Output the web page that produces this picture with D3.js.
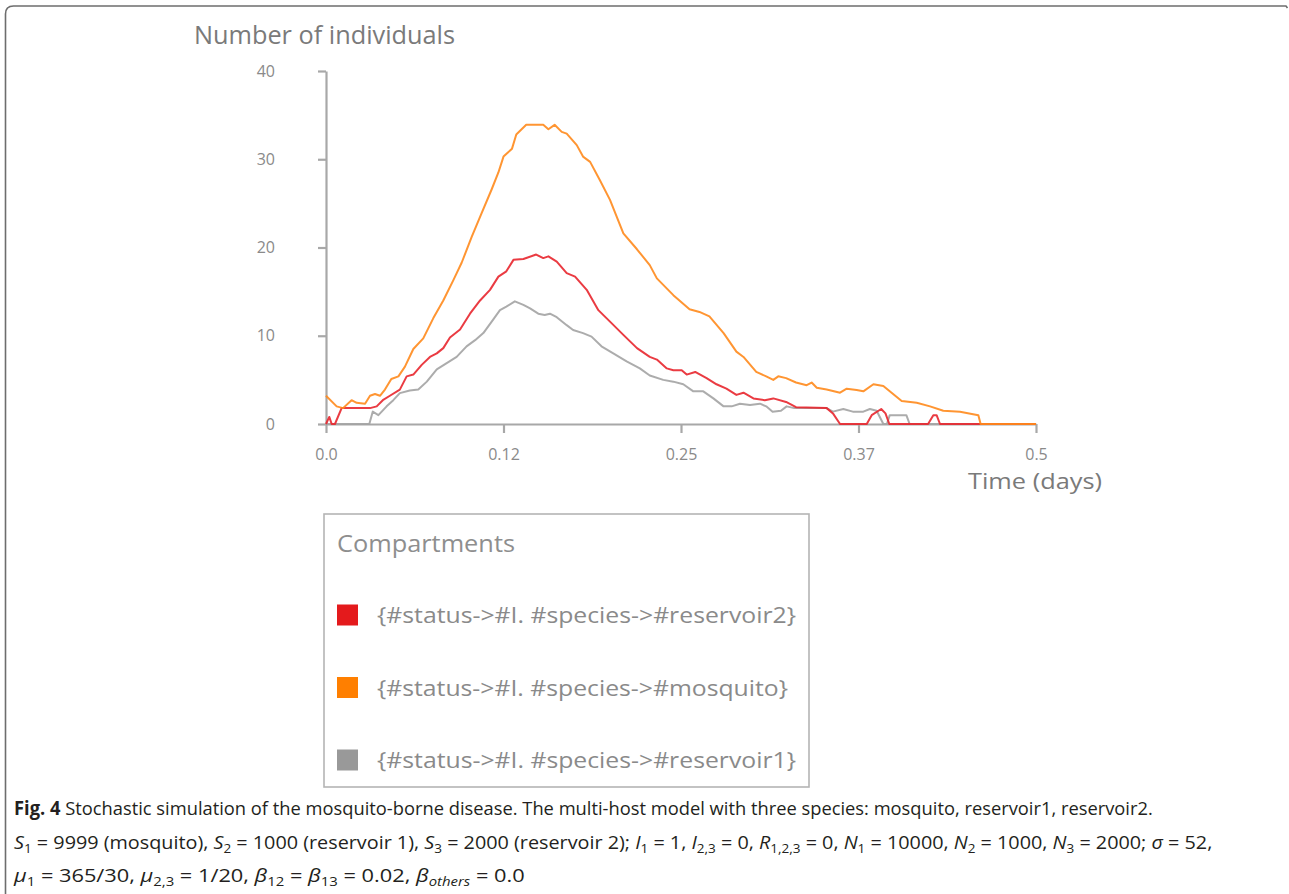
<!DOCTYPE html>
<html>
<head>
<meta charset="utf-8">
<script src="https://cdn.jsdelivr.net/npm/d3@7"></script>
<style>
  html, body { margin: 0; padding: 0; background: #fff; }
  svg { display: block; }
</style>
</head>
<body>
<svg id="chart" width="1289" height="894"></svg>
<script>
// ---------------- DATA ----------------
const xTickValues = [0, 0.125, 0.25, 0.375, 0.5];
const xTickLabels = ["0.0", "0.12", "0.25", "0.37", "0.5"];
const yTickValues = [0, 10, 20, 30, 40];
const yTickLabels = ["0", "10", "20", "30", "40"];

const seriesNames = [
  "{#status->#I. #species->#reservoir2}",
  "{#status->#I. #species->#mosquito}",
  "{#status->#I. #species->#reservoir1}"
];
const seriesColors = ["#e41a1c", "#ff7f00", "#999999"];
const lineColors = ["#e8262e", "#ff8a1c", "#a3a3a3"];

// [time (days), number of individuals]
const reservoir2 = [[0,0],[0.0023,0.8],[0.004,0],[0.0063,0],[0.011,1.8],[0.031,1.8],[0.0357,2.0],[0.04,2.7],[0.045,3.2],[0.052,3.9],[0.0568,5.4],[0.0615,5.6],[0.0674,6.7],[0.0732,7.6],[0.078,8.0],[0.0826,8.6],[0.0873,9.8],[0.0944,10.7],[0.1014,12.5],[0.1085,14.0],[0.1155,15.2],[0.1214,16.7],[0.127,17.3],[0.132,18.6],[0.139,18.7],[0.148,19.2],[0.153,18.8],[0.1566,19.0],[0.1625,18.4],[0.1695,17.1],[0.1754,16.7],[0.1836,15.2],[0.1918,12.9],[0.2,11.6],[0.2094,10.1],[0.219,8.6],[0.228,7.6],[0.233,7.3],[0.24,6.3],[0.2446,6.1],[0.2505,6.1],[0.254,5.6],[0.26,5.9],[0.268,5.2],[0.275,4.5],[0.282,4.0],[0.289,3.3],[0.294,3.55],[0.301,2.9],[0.309,2.7],[0.315,2.9],[0.324,2.5],[0.331,1.9],[0.3526,1.8],[0.357,1.2],[0.362,0],[0.3808,0],[0.3843,1.0],[0.391,1.7],[0.394,1.2],[0.3967,0],[0.424,0],[0.4277,1.0],[0.43,1.0],[0.4324,0],[0.5,0]];

const mosquito = [[0,3.2],[0.0075,2.0],[0.012,1.8],[0.018,2.7],[0.0216,2.4],[0.0275,2.3],[0.031,3.2],[0.0345,3.4],[0.038,3.2],[0.0415,3.9],[0.046,5.1],[0.051,5.4],[0.0556,6.5],[0.0615,8.5],[0.0685,9.7],[0.0756,12.0],[0.0826,14.0],[0.0897,16.3],[0.0956,18.3],[0.1026,21.2],[0.1096,23.9],[0.1167,26.6],[0.1214,28.5],[0.125,30.3],[0.131,31.2],[0.134,32.8],[0.141,33.9],[0.148,33.9],[0.153,33.9],[0.1566,33.4],[0.161,33.9],[0.166,33.1],[0.1695,32.9],[0.1766,31.6],[0.181,30.3],[0.186,29.7],[0.193,27.6],[0.2,25.4],[0.2047,23.5],[0.2094,21.6],[0.219,19.8],[0.228,18.0],[0.233,16.5],[0.2446,14.6],[0.256,13.0],[0.263,12.7],[0.27,12.2],[0.28,10.3],[0.289,8.2],[0.294,7.6],[0.303,5.9],[0.31,5.4],[0.315,5.0],[0.3185,5.4],[0.324,5.2],[0.331,4.7],[0.3385,4.4],[0.342,4.7],[0.3456,4.1],[0.3526,3.9],[0.362,3.55],[0.3667,4.0],[0.3737,3.85],[0.3784,3.7],[0.3855,4.5],[0.3925,4.3],[0.397,3.7],[0.4054,2.6],[0.416,2.4],[0.4254,2.0],[0.4347,1.5],[0.4465,1.4],[0.4594,1.0],[0.461,0],[0.5,0]];

const reservoir1 = [[0,0],[0.0305,0],[0.0329,1.4],[0.0369,1.0],[0.0427,2.0],[0.0474,2.7],[0.052,3.5],[0.059,3.8],[0.065,3.9],[0.071,4.8],[0.078,6.2],[0.085,6.9],[0.092,7.6],[0.099,8.8],[0.105,9.5],[0.1108,10.3],[0.1167,11.6],[0.1225,12.9],[0.127,13.3],[0.133,13.9],[0.139,13.5],[0.1437,13.1],[0.1495,12.5],[0.154,12.35],[0.1577,12.5],[0.1625,12.1],[0.1695,11.2],[0.174,10.65],[0.181,10.3],[0.187,9.9],[0.194,8.8],[0.2023,8.0],[0.2117,7.1],[0.221,6.3],[0.228,5.5],[0.2375,5.0],[0.2446,4.8],[0.2516,4.5],[0.2587,3.7],[0.2657,3.7],[0.2728,2.9],[0.28,2.0],[0.2857,2.0],[0.2915,2.3],[0.2986,2.15],[0.3056,2.3],[0.31,2.0],[0.3145,1.4],[0.3204,1.5],[0.3244,2.0],[0.3298,1.8],[0.3526,1.8],[0.357,1.4],[0.3643,1.7],[0.371,1.4],[0.3784,1.4],[0.383,1.7],[0.3878,1.5],[0.39,0.8],[0.3925,0],[0.395,0],[0.397,1.0],[0.4087,1.0],[0.411,0],[0.5,0]];

const yTitle = "Number of individuals";
const xTitle = "Time (days)";
const legendTitle = "Compartments";

// caption lines: segments [text, style]
const captionLines = [
  [["Fig. 4", "b"], [" Stochastic simulation of the mosquito-borne disease. The multi-host model with three species: mosquito, reservoir1, reservoir2.", ""]],
  [["S","i"],["1","sub"],[" = 9999 (mosquito), ",""],["S","i"],["2","sub"],[" = 1000 (reservoir 1), ",""],["S","i"],["3","sub"],[" = 2000 (reservoir 2); ",""],["I","i"],["1","sub"],[" = 1, ",""],["I","i"],["2,3","sub"],[" = 0, ",""],["R","i"],["1,2,3","sub"],[" = 0, ",""],["N","i"],["1","sub"],[" = 10000, ",""],["N","i"],["2","sub"],[" = 1000, ",""],["N","i"],["3","sub"],[" = 2000; ",""],["σ","i"],[" = 52,",""]],
  [["μ","i"],["1","sub"],[" = 365/30, ",""],["μ","i"],["2,3","sub"],[" = 1/20, ",""],["β","i"],["12","sub"],[" = ",""],["β","i"],["13","sub"],[" = 0.02, ",""],["β","i"],["others","isub"],[" = 0.0",""]]
];

// ---------------- DRAW ----------------
const svg = d3.select("#chart");
const FONT = "'Open Sans', 'Noto Sans', sans-serif";

// outer frame (top + left with rounded corner)
svg.append("path")
  .attr("d", "M5.5,894 L5.5,14 Q5.5,6 13.5,6 L1286,6 L1287.5,8")
  .attr("fill", "none").attr("stroke", "#6d6d6d").attr("stroke-width", 1.6);

const x = d3.scaleLinear().domain([0, 0.5]).range([326, 1036]);
const y = d3.scaleLinear().domain([0, 40]).range([424, 71]);

const axisColor = "#a8a8a8";
const textColor = "#8a8a8a";

const yAxis = svg.append("g").attr("transform", `translate(${x(0)},0)`)
  .call(d3.axisLeft(y).tickValues(yTickValues)
    .tickFormat((d, i) => yTickLabels[i]).tickSize(8).tickSizeOuter(0).tickPadding(43));
const xAxis = svg.append("g").attr("transform", `translate(0,${y(0)})`)
  .call(d3.axisBottom(x).tickValues(xTickValues)
    .tickFormat((d, i) => xTickLabels[i]).tickSize(9).tickSizeOuter(0).tickPadding(16));

[yAxis, xAxis].forEach(g => {
  g.select(".domain").attr("stroke", axisColor).attr("stroke-width", 2.2);
  g.selectAll(".tick line").attr("stroke", axisColor).attr("stroke-width", 2.2);
  g.selectAll(".tick text").attr("fill", textColor)
    .style("font-family", FONT).style("font-size", "16px");
});

// titles
svg.append("text").attr("x", 194).attr("y", 44)
  .attr("textLength", 261).attr("lengthAdjust", "spacingAndGlyphs")
  .style("font-family", FONT).style("font-size", "25px").attr("fill", "#7a7a7a")
  .text(yTitle);
svg.append("text").attr("x", 968).attr("y", 489)
  .attr("textLength", 134).attr("lengthAdjust", "spacingAndGlyphs")
  .style("font-family", FONT).style("font-size", "22px").attr("fill", "#7a7a7a")
  .text(xTitle);

// lines
const line = d3.line().x(d => x(d[0])).y(d => y(d[1]));
const drawOrder = [[reservoir1, 2], [reservoir2, 0], [mosquito, 1]];
drawOrder.forEach(([data, ci]) => {
  svg.append("path").datum(data)
    .attr("d", line)
    .attr("fill", "none")
    .attr("stroke", lineColors[ci])
    .attr("stroke-width", 2)
    .attr("stroke-opacity", 0.9)
    .attr("stroke-linejoin", "round");
});

// legend
const lg = svg.append("g");
lg.append("rect").attr("x", 324).attr("y", 514).attr("width", 485).attr("height", 273)
  .attr("fill", "#fff").attr("stroke", "#b5b5b5").attr("stroke-width", 1.6);
lg.append("text").attr("x", 337).attr("y", 552)
  .attr("textLength", 178).attr("lengthAdjust", "spacingAndGlyphs")
  .style("font-family", FONT).style("font-size", "24px").attr("fill", "#8e8e8e")
  .text(legendTitle);
const legendY = d3.scalePoint().domain(d3.range(seriesNames.length)).range([615, 760]);
const legendWidths = [419, 411, 419];
seriesNames.forEach((name, i) => {
  const cy = legendY(i);
  lg.append("rect").attr("x", 337).attr("y", cy - 10.5).attr("width", 21).attr("height", 21)
    .attr("fill", seriesColors[i]);
  lg.append("text").attr("x", 377).attr("y", cy + 8)
    .attr("textLength", legendWidths[i]).attr("lengthAdjust", "spacingAndGlyphs")
    .style("font-family", FONT).style("font-size", "22px").attr("fill", "#8a8a8a")
    .text(name);
});

// caption
const capBaselines = [815, 849, 882];
const capWidths = [1139, 1199, 511];
const capX = 14;
captionLines.forEach((segs, li) => {
  const g = svg.append("g");
  const t = g.append("text").attr("x", 0).attr("y", 0)
    .style("font-family", FONT).style("font-size", "19px").attr("fill", "#231f20");
  let shifted = false;
  segs.forEach(([txt, st]) => {
    const ts = t.append("tspan").text(txt);
    let dy = 0;
    if (st === "sub" || st === "isub") {
      ts.style("font-size", "13px");
      if (!shifted) { dy = 4; shifted = true; }
    } else if (shifted) { dy = -4; shifted = false; }
    if (dy) ts.attr("dy", dy);
    if (st === "b") ts.style("font-weight", "bold");
    if (st === "i" || st === "isub") ts.style("font-style", "italic");
  });
  const w = t.node().getComputedTextLength();
  const sx = capWidths[li] / w;
  g.attr("transform", `translate(${capX},${capBaselines[li]}) scale(${sx},1)`);
});
</script>
</body>
</html>
